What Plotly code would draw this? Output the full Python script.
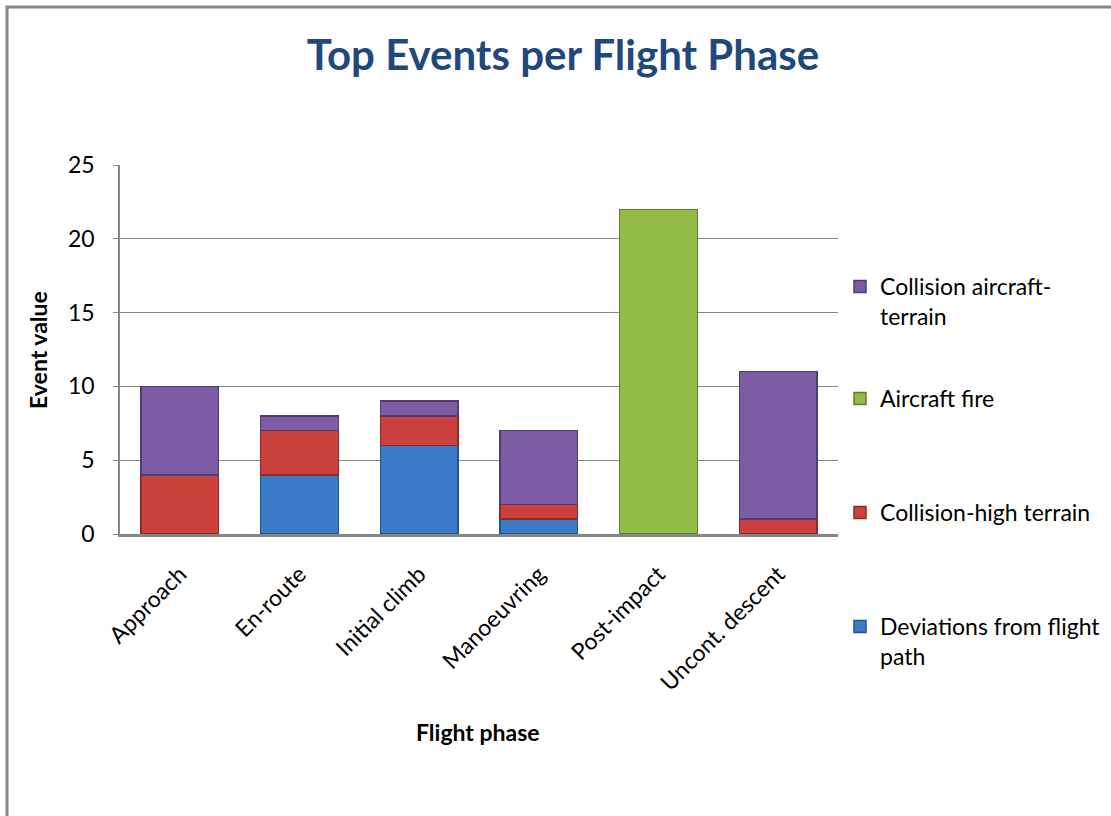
import plotly.graph_objects as go

# Flight phases and event counts per phase (None = no events of that type)
phases = ["Approach", "En-route", "Initial climb", "Manoeuvring", "Post-impact", "Uncont. descent"]
deviations = [None, 4, 6, 1, None, None]
collision_high = [4, 3, 2, 1, None, 1]
aircraft_fire = [None, None, None, None, 22, None]
collision_terrain = [6, 1, 1, 5, None, 10]

# name, values, fill, edge, legend id, legend first-line centre (px)
series = [
    ("Deviations from flight<br>path", deviations, "#3B7AC6", "#24538C", "legend4", 627),
    ("Collision-high terrain", collision_high, "#CB413E", "#8E2A28", "legend3", 513),
    ("Aircraft fire", aircraft_fire, "#92BC45", "#5E7F2A", "legend2", 399),
    ("Collision aircraft-<br>terrain", collision_terrain, "#7D5CA6", "#513B70", "legend", 287),
]

FONT = "Lato, Carlito, Calibri, sans-serif"

# Plot area in pixels: x 120..838, y 165..534
L, R, T, B = 120, 838, 165, 534
W, H = 1111, 816
pw, ph = R - L, B - T


def px_x(v):
    return (v - L) / pw


def px_y(v):
    return (B - v) / ph


fig = go.Figure()
legends = {}
for name, vals, fill, edge, leg, cy in series:
    fig.add_trace(go.Bar(
        x=phases, y=vals, name=name, legend=leg, showlegend=True,
        marker=dict(color=fill, line=dict(color=edge, width=1.5)),
    ))
    legends[leg] = dict(
        x=px_x(840), xanchor="left", y=px_y(cy - 22), yanchor="top",
        valign="top", font=dict(family=FONT, size=23, color="#000000"),
        bgcolor="rgba(0,0,0,0)", maxheight=200, visible=True,
    )

fig.update_layout(
    width=W, height=H,
    margin=dict(l=L, r=W - R, t=T, b=H - B, autoexpand=False),
    barmode="stack", bargap=0.35, showlegend=True,
    paper_bgcolor="white", plot_bgcolor="white",
    font=dict(family=FONT, size=23, color="#000000"),
    title=dict(
        text="<b>Top Events per Flight Phase</b>",
        x=563 / W, xanchor="center", y=1 - 55 / H, yanchor="middle",
        font=dict(family=FONT, size=42, color="#1F497D"),
    ),
    xaxis=dict(
        showline=True, linecolor="#868686", linewidth=2.5,
        tickangle=-45, ticks="", showgrid=False, ticklabelstandoff=15,
        tickfont=dict(family=FONT, size=23),
    ),
    yaxis=dict(
        range=[0, 25], dtick=5, showline=True, linecolor="#868686", linewidth=1.5,
        showgrid=True, gridcolor="#868686", gridwidth=1.2,
        ticks="outside", ticklen=5, tickcolor="#868686", zeroline=False,
        ticklabelstandoff=14,
        tickfont=dict(family=FONT, size=23),
    ),
    shapes=[
        # chart frame (top and left edges are in view)
        dict(type="rect", xref="paper", yref="paper",
             x0=px_x(7), x1=px_x(1130), y0=px_y(830), y1=px_y(7),
             line=dict(color="#868686", width=3), layer="below"),
    ],
    annotations=[
        dict(text="<b>Flight phase</b>", xref="paper", yref="paper",
             x=px_x(478), y=px_y(732), xanchor="center", yanchor="middle",
             showarrow=False, font=dict(family=FONT, size=23)),
        dict(text="<b>Event value</b>", xref="paper", yref="paper",
             x=px_x(38), y=px_y(350), xanchor="center", yanchor="middle",
             textangle=-90, showarrow=False, font=dict(family=FONT, size=23)),
    ],
    **legends,
)

fig.write_html("out.html")
